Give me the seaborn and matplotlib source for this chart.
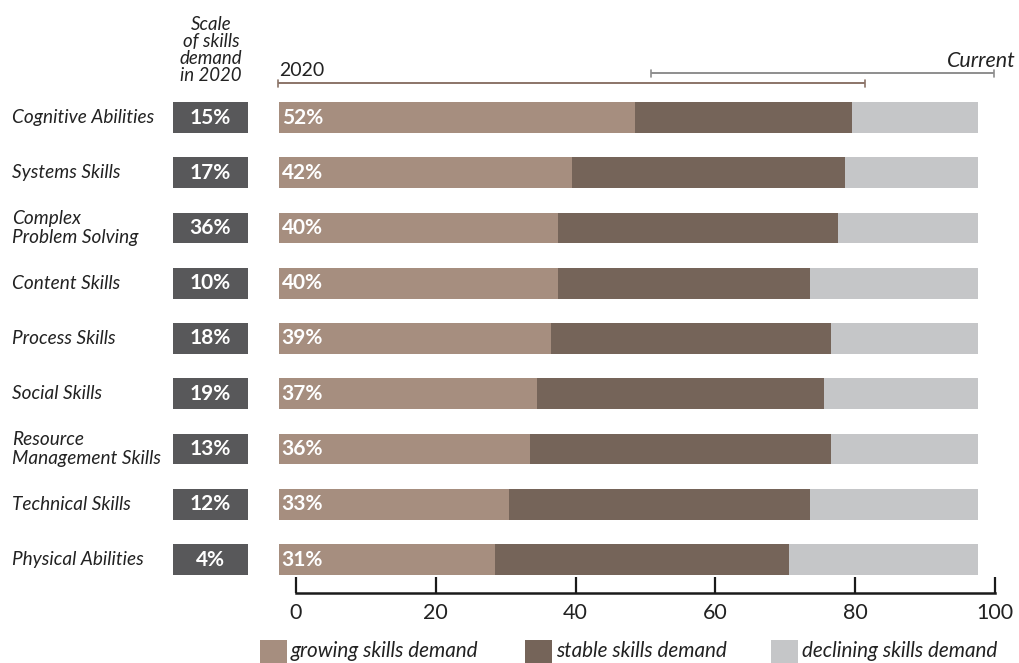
import numpy as np
import pandas as pd
import matplotlib
matplotlib.use("Agg")
import matplotlib.pyplot as plt
import matplotlib.transforms as mtrans
from matplotlib.patches import Rectangle
import seaborn as sns

# ---------------- data ----------------
skills = ["Cognitive Abilities", "Systems Skills", "Complex\nProblem Solving",
          "Content Skills", "Process Skills", "Social Skills",
          "Resource\nManagement Skills", "Technical Skills", "Physical Abilities"]
scale_2020 = [15, 17, 36, 10, 18, 19, 13, 12, 4]
growing = [51, 42, 40, 40, 39, 37, 36, 33, 31]
stable = [31, 39, 40, 36, 40, 41, 43, 43, 42]
declining = [18, 19, 20, 24, 21, 22, 21, 24, 27]
growing_labels = ["52%", "42%", "40%", "40%", "39%", "37%", "36%", "33%", "31%"]
x_ticks = [0, 20, 40, 60, 80, 100]
legend_labels = ["growing skills demand", "stable skills demand", "declining skills demand"]
header_text = "Scale\nof skills\ndemand\nin 2020"

# ---------------- style ----------------
C_GROW = "#a68e7f"
C_STAB = "#756459"
C_DECL = "#c5c6c8"
C_BOX = "#58585a"
C_TXT = "#222222"
C_BR1 = "#8b7468"
C_BR2 = "#8e8e8e"

sns.set_theme(style="white")
plt.rcParams["font.family"] = ["Lato", "DejaVu Sans"]

W, H = 1020, 663
fig = plt.figure(figsize=(W / 100, H / 100), dpi=100)

PX0, PXU = 296.0, 6.99          # pixel of x=0, pixels per unit
AX_L, AX_R, AX_T, AX_B = 150, 1010, 95, 593
ax = fig.add_axes([AX_L / W, 1 - AX_B / H, (AX_R - AX_L) / W, (AX_B - AX_T) / H])

df = pd.DataFrame({"skill": skills, "growing": growing, "stable": stable,
                   "declining": declining})
df["gs"] = df["growing"] + df["stable"]
df["total"] = df["gs"] + df["declining"]

BAR_START = -2.5
BAR_H = 0.56
for col, colr in [("total", C_DECL), ("gs", C_STAB), ("growing", C_GROW)]:
    sns.barplot(data=df, y="skill", x=col, orient="h", color=colr, saturation=1,
                width=BAR_H, left=BAR_START, errorbar=None, linewidth=0, ax=ax)

xmin = (AX_L - PX0) / PXU
xmax = (AX_R - PX0) / PXU
ax.set_xlim(xmin, xmax)
y0 = -(117.5 - AX_T) / 55.25
y1 = 8 + (AX_B - 559.5) / 55.25
ax.set_ylim(y1, y0)

# dark boxes with 2020 scale
BOX_L = (173 - PX0) / PXU
BOX_W = (248 - 173) / PXU
pos = np.arange(len(skills))
ax.barh(pos, BOX_W, left=BOX_L, height=BAR_H, color=C_BOX, linewidth=0)
for i, v in enumerate(scale_2020):
    ax.text(BOX_L + BOX_W / 2, i, f"{v}%", ha="center", va="center",
            color="white", fontweight="bold", fontsize=15)
for i, lab in enumerate(growing_labels):
    ax.text(BAR_START + 0.45, i, lab, ha="left", va="center",
            color="white", fontweight="bold", fontsize=15)

trans = mtrans.blended_transform_factory(fig.transFigure, ax.transData)
for i, s in enumerate(skills):
    ax.text(12 / W, i, s, transform=trans, ha="left", va="center",
            style="italic", fontsize=13.7, color=C_TXT, linespacing=1.08)

for sp in ["top", "left", "right"]:
    ax.spines[sp].set_visible(False)
ax.spines["bottom"].set_bounds(0, 100)
ax.spines["bottom"].set_linewidth(1.8)
ax.spines["bottom"].set_color("#1a1a1a")
ax.set_xticks(x_ticks)
ax.set_xticklabels([str(t) for t in x_ticks])
ax.tick_params(axis="x", direction="in", length=11.5, width=1.6, color="#1a1a1a",
               pad=7, labelsize=15.5, labelcolor=C_TXT, bottom=True)
ax.set_yticks([])
ax.set_xlabel("")
ax.set_ylabel("")
ax.patch.set_alpha(0)

# ---------------- overlay for annotations ----------------
ov = fig.add_axes([0, 0, 1, 1], zorder=-1)
ov.set_xlim(0, W)
ov.set_ylim(H, 0)
ov.axis("off")

ov.text(211, 50, header_text, ha="center", va="center", style="italic",
        fontsize=13.4, color=C_TXT, linespacing=1.0)
ov.text(279, 71, "2020", ha="left", va="center", fontsize=14, color=C_TXT)
ov.text(1016, 61, "Current", ha="right", va="center", style="italic",
        fontsize=15.5, color=C_TXT)

def bracket(x0, x1, y, c):
    ov.plot([x0, x1], [y, y], color=c, lw=1.4, solid_capstyle="butt")
    for x in (x0, x1):
        ov.plot([x, x], [y - 3.5, y + 3.5], color=c, lw=1.2)

bracket(278.5, 865, 83, C_BR1)
bracket(651, 994, 73, C_BR2)

legend_x = [260, 525, 771]
for lx, lab, colr in zip(legend_x, legend_labels, [C_GROW, C_STAB, C_DECL]):
    ov.add_patch(Rectangle((lx, 640), 27, 24, color=colr, lw=0))
    ov.text(lx + 31, 651, lab, ha="left", va="center", style="italic",
            fontsize=14.9, color=C_TXT)

fig.savefig("out.png", dpi=100)
